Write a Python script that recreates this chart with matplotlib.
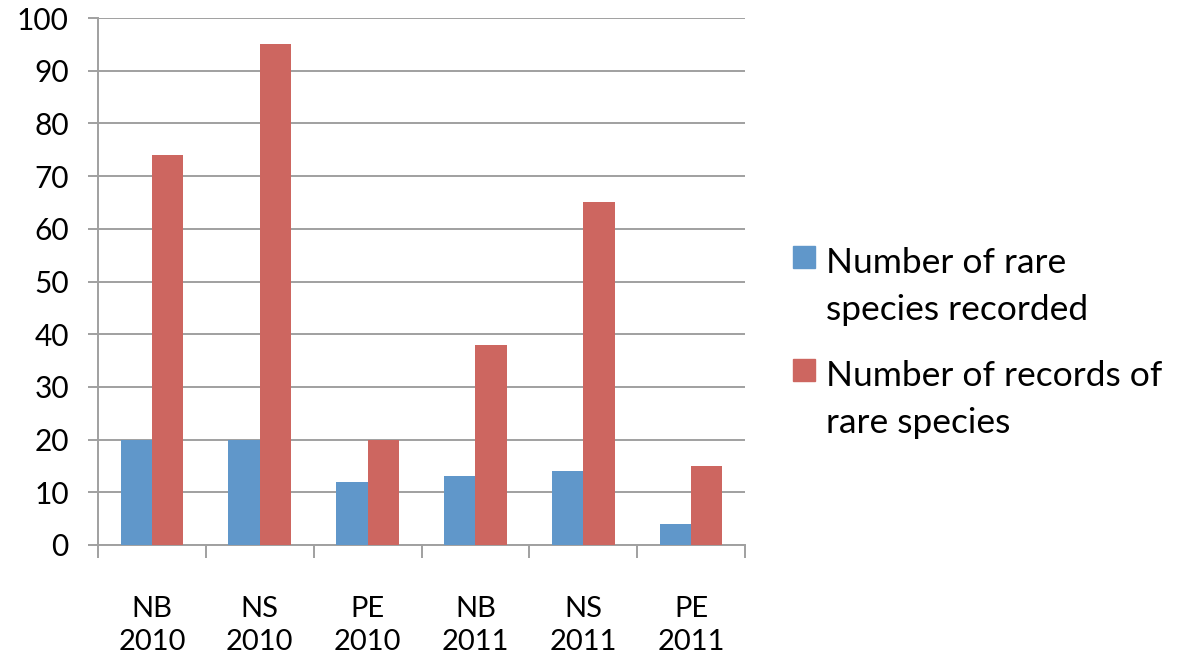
import numpy as np
import matplotlib
matplotlib.use('Agg')
import matplotlib.pyplot as plt
from matplotlib.patches import Rectangle

# --- Datos ---
categorias = ["NB\n2010", "NS\n2010", "PE\n2010", "NB\n2011", "NS\n2011", "PE\n2011"]
especies_raras = [20, 20, 12, 13, 14, 4]
registros_raros = [74, 95, 20, 38, 65, 15]
etiquetas = [["Number of rare", "species recorded"], ["Number of records of", "rare species"]]
colores = ["#6097CA", "#CD6660"]

plt.rcParams['font.family'] = ['Lato', 'DejaVu Sans']

W, H = 1180, 658
fig = plt.figure(figsize=(W / 100, H / 100), dpi=100)
ax = fig.add_axes([98 / W, 1 - 545 / H, 647 / W, 527 / H])

x = np.arange(len(categorias))
ancho = 0.29
ax.bar(x - ancho / 2, especies_raras, ancho, color=colores[0], zorder=3)
ax.bar(x + ancho / 2, registros_raros, ancho, color=colores[1], zorder=3)

ax.set_xlim(-0.5, len(categorias) - 0.5)
ax.set_ylim(0, 100)
ax.set_yticks(range(0, 101, 10))
ax.yaxis.grid(True, color="#A0A0A0", linewidth=1.4, zorder=0)

ax.set_xticks(x)
ax.set_xticklabels(categorias, linespacing=1.3)
ax.set_xticks(np.arange(-0.5, len(categorias), 1), minor=True)
ax.tick_params(axis='x', which='major', length=0, pad=37, labelsize=21)
ax.tick_params(axis='x', which='minor', length=9, width=1.4, color="#A0A0A0")
ax.tick_params(axis='y', length=7, width=1.4, color="#A0A0A0", labelsize=21.5, pad=14)

for lado in ['top', 'right']:
    ax.spines[lado].set_visible(False)
for lado in ['left', 'bottom']:
    ax.spines[lado].set_color("#A0A0A0")
    ax.spines[lado].set_linewidth(1.4)

# --- Leyenda dibujada a mano (cuadro alineado con la primera línea) ---
tops = [246, 359]
for color, lineas, top in zip(colores, etiquetas, tops):
    fig.add_artist(Rectangle((793 / W, 1 - (top + 22) / H), 22 / W, 22 / H,
                             transform=fig.transFigure, color=color))
    for i, linea in enumerate(lineas):
        fig.text(826 / W, 1 - (top + 27 + 47 * i) / H, linea, fontsize=25.5,
                 ha='left', va='baseline')

plt.savefig("out.png", dpi=100)
plt.close()
